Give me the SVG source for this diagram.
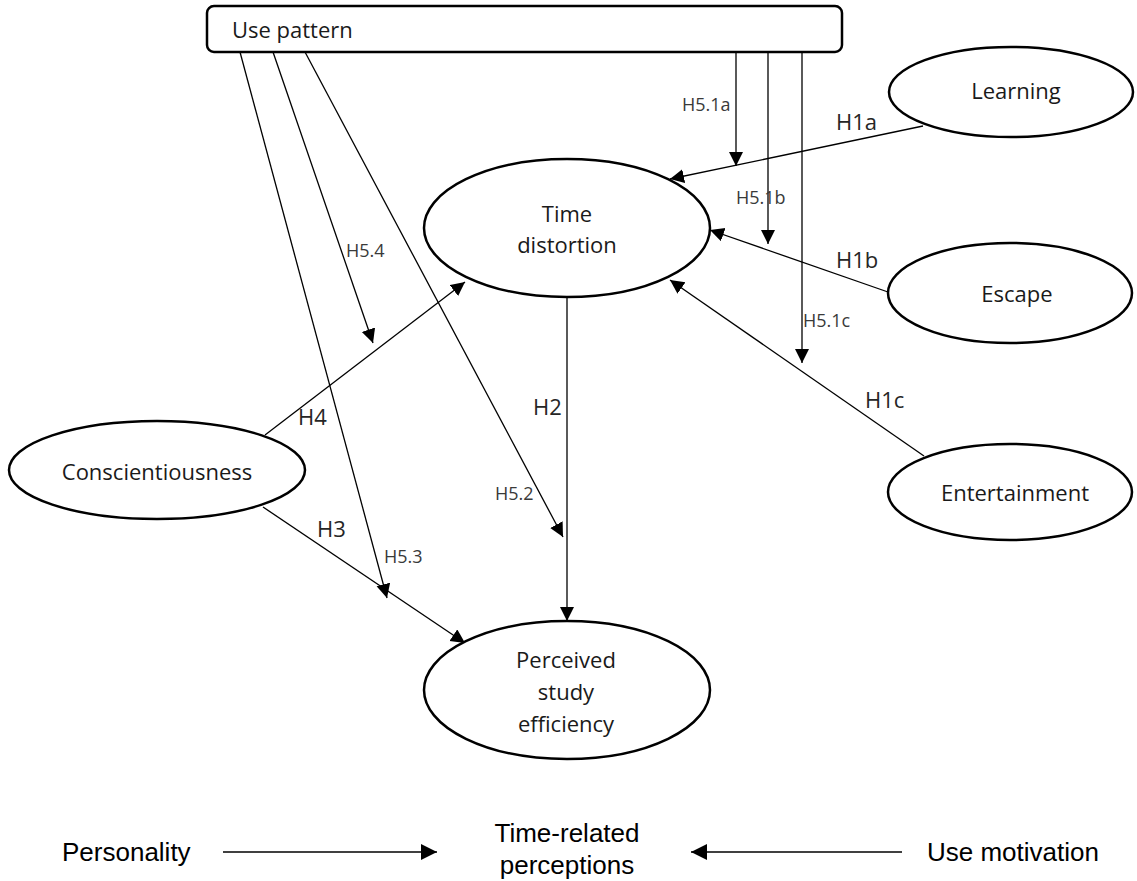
<svg xmlns="http://www.w3.org/2000/svg" width="1137" height="881" viewBox="0 0 1137 881">
  <style>
    .node { fill: #ffffff; stroke: #000000; stroke-width: 2.5; }
    .ntext { font-family: "Open Sans", "Noto Sans", sans-serif; font-size: 22px; fill: #1a1a1a; text-anchor: middle; }
    .hl { font-family: "Open Sans", "Noto Sans", sans-serif; font-size: 22px; fill: #262626; }
    .hs { font-family: "Open Sans", "Noto Sans", sans-serif; font-size: 18px; fill: #3a3a3a; }
    .edge { fill: none; stroke: #000000; stroke-width: 1.3; marker-end: url(#arr); }
    .legend { font-family: "Liberation Sans", Arial, sans-serif; font-size: 26px; fill: #000000; }
    .larr { fill: none; stroke: #000000; stroke-width: 1.6; marker-end: url(#arrL); }
  </style>
  <defs>
    <marker id="arr" markerUnits="userSpaceOnUse" markerWidth="15" markerHeight="15" refX="14" refY="7" orient="auto">
      <path d="M0,0 L14,7 L0,14 z" fill="#000000"/>
    </marker>
    <marker id="arrL" markerUnits="userSpaceOnUse" markerWidth="17" markerHeight="17" refX="16" refY="8" orient="auto">
      <path d="M0,0 L16,8 L0,16 z" fill="#000000"/>
    </marker>
  </defs>
  <rect width="1137" height="881" fill="#ffffff"/>

  <g id="connectors">
    <line class="edge" x1="736" y1="52" x2="736" y2="166"/>
    <line class="edge" x1="768" y1="52" x2="768" y2="244"/>
    <line class="edge" x1="802" y1="52" x2="802" y2="363"/>
    <line class="edge" x1="240" y1="52" x2="387" y2="598"/>
    <line class="edge" x1="273" y1="52" x2="373" y2="343"/>
    <line class="edge" x1="305" y1="52" x2="563" y2="537"/>
    <line class="edge" x1="923" y1="126" x2="670" y2="179"/>
    <line class="edge" x1="888" y1="292" x2="710" y2="230"/>
    <line class="edge" x1="924" y1="456" x2="670" y2="280"/>
    <line class="edge" x1="265" y1="435" x2="465" y2="282"/>
    <line class="edge" x1="263" y1="507" x2="465" y2="643"/>
    <line class="edge" x1="567" y1="298" x2="567" y2="621"/>
    <text class="hl" x="836" y="130">H1a</text>
    <text class="hl" x="836" y="268">H1b</text>
    <text class="hl" x="865" y="408">H1c</text>
    <text class="hl" x="533" y="415">H2</text>
    <text class="hl" x="317" y="537">H3</text>
    <text class="hl" x="298" y="425">H4</text>
    <text class="hs" x="682" y="111">H5.1a</text>
    <text class="hs" x="736" y="204">H5.1b</text>
    <text class="hs" x="803" y="327">H5.1c</text>
    <text class="hs" x="495" y="500">H5.2</text>
    <text class="hs" x="384" y="563">H5.3</text>
    <text class="hs" x="346" y="257">H5.4</text>
  </g>

  <g id="use-pattern">
    <rect class="node" x="207" y="6" width="635" height="46" rx="7" ry="7"/>
    <text class="ntext" x="232" y="38" style="text-anchor:start">Use pattern</text>
  </g>
  <g id="time-distortion">
    <ellipse class="node" cx="567" cy="228" rx="143" ry="69"/>
    <text class="ntext" x="567" y="222">Time</text>
    <text class="ntext" x="567" y="253">distortion</text>
  </g>
  <g id="perceived-study-efficiency">
    <ellipse class="node" cx="567" cy="690" rx="143" ry="69"/>
    <text class="ntext" x="566" y="668">Perceived</text>
    <text class="ntext" x="566" y="700">study</text>
    <text class="ntext" x="566" y="732">efficiency</text>
  </g>
  <g id="conscientiousness">
    <ellipse class="node" cx="157" cy="470" rx="148" ry="49"/>
    <text class="ntext" x="157" y="480">Conscientiousness</text>
  </g>
  <g id="learning">
    <ellipse class="node" cx="1011" cy="92" rx="122" ry="45"/>
    <text class="ntext" x="1016" y="99">Learning</text>
  </g>
  <g id="escape">
    <ellipse class="node" cx="1010" cy="293" rx="122" ry="50"/>
    <text class="ntext" x="1017" y="302">Escape</text>
  </g>
  <g id="entertainment">
    <ellipse class="node" cx="1010" cy="492" rx="122" ry="48"/>
    <text class="ntext" x="1015" y="501">Entertainment</text>
  </g>

  <g id="legend">
    <text class="legend" x="62" y="861">Personality</text>
    <line class="larr" x1="223" y1="852" x2="437" y2="852"/>
    <text class="legend" x="567" y="842" text-anchor="middle">Time-related</text>
    <text class="legend" x="567" y="874" text-anchor="middle">perceptions</text>
    <line class="larr" x1="902" y1="852" x2="691" y2="852"/>
    <text class="legend" x="927" y="861">Use motivation</text>
  </g>
</svg>
